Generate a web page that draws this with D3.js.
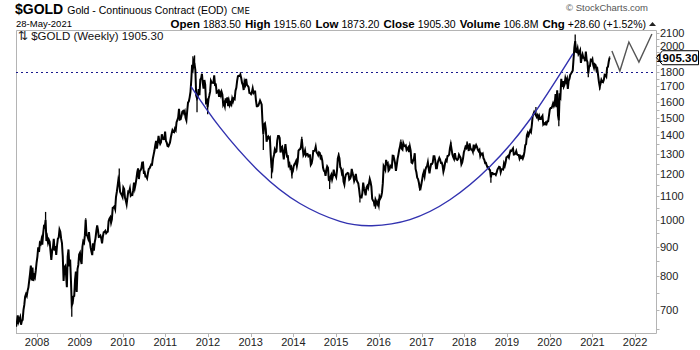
<!DOCTYPE html>
<html><head><meta charset="utf-8">
<script src="https://cdnjs.cloudflare.com/ajax/libs/d3/7.8.5/d3.min.js"></script>
<style>
html,body{margin:0;padding:0;background:#fff;}
svg{display:block;}
text{font-family:"Liberation Sans",Arial,sans-serif;}
</style></head>
<body><svg id="chart" width="700" height="350"></svg>
<script>
// ---- weekly closes (Friday) ----
const gold2007 = [655,667,685,668,674,680,660,670,673,700,714,738,745,740,755,765,786,808,835,787,828,785,803,797,818,845];
const gold2008 = [865,897,881,913,909,925,907,947,975,972,1001,920,933,914,925,918,885,854,885,896,928,886,902,871,904,929,933,963,955,929,913,865,785,829,833,805,766,865,890,832,855,786,713,718,738,740,790,815,752,823,837,872];
const gold2009 = [878,853,840,899,919,914,942,1002,942,940,930,953,923,897,883,870,912,886,915,931,958,979,962,935,936,940,930,912,937,953,954,958,949,953,955,996,1006,1011,990,1003,1050,1052,1056,1045,1096,1118,1146,1176,1162,1119,1111,1105];
const gold2010 = [1096,1138,1131,1092,1081,1065,1093,1120,1118,1133,1102,1106,1105,1126,1161,1136,1155,1179,1209,1228,1177,1213,1219,1228,1256,1257,1208,1210,1189,1189,1181,1204,1225,1228,1237,1247,1246,1276,1297,1318,1346,1369,1328,1359,1397,1367,1353,1362,1406,1385,1379,1380,1421];
const gold2011 = [1369,1360,1342,1340,1350,1361,1388,1410,1429,1421,1418,1437,1429,1475,1487,1504,1556,1491,1493,1511,1537,1542,1529,1540,1501,1486,1542,1594,1602,1628,1663,1742,1852,1827,1876,1857,1813,1639,1622,1635,1682,1642,1747,1755,1788,1724,1686,1744,1712,1598,1606,1566];
const gold2012 = [1617,1639,1665,1738,1726,1725,1724,1776,1710,1712,1659,1662,1669,1631,1659,1642,1664,1645,1581,1592,1572,1622,1593,1628,1572,1604,1579,1593,1583,1620,1603,1621,1617,1672,1691,1738,1771,1774,1773,1781,1758,1724,1711,1676,1731,1714,1751,1711,1704,1696,1657,1656];
const gold2013 = [1649,1662,1687,1658,1667,1667,1609,1572,1572,1577,1592,1608,1596,1581,1476,1405,1462,1468,1435,1365,1386,1393,1383,1388,1298,1234,1223,1277,1295,1322,1310,1313,1371,1396,1396,1386,1308,1333,1338,1309,1272,1316,1352,1314,1287,1288,1243,1250,1229,1235,1204,1213];
const gold2014 = [1237,1248,1254,1264,1240,1262,1318,1323,1326,1338,1379,1334,1294,1302,1318,1293,1300,1301,1288,1293,1293,1246,1253,1274,1316,1316,1320,1338,1310,1303,1294,1309,1305,1280,1286,1267,1231,1216,1214,1192,1222,1238,1231,1172,1169,1186,1196,1175,1191,1222,1196,1195];
const gold2015 = [1186,1217,1277,1293,1279,1234,1228,1204,1213,1165,1152,1184,1199,1202,1206,1204,1175,1179,1189,1225,1205,1190,1168,1179,1201,1173,1163,1157,1131,1099,1094,1094,1113,1160,1134,1121,1103,1137,1145,1136,1156,1177,1163,1142,1088,1081,1076,1056,1085,1076,1065,1075];
const gold2016 = [1061,1098,1090,1097,1116,1158,1239,1231,1221,1270,1250,1254,1217,1222,1240,1233,1232,1291,1290,1272,1252,1216,1244,1275,1297,1322,1340,1366,1328,1323,1357,1344,1341,1345,1321,1327,1334,1310,1339,1317,1257,1254,1267,1276,1304,1225,1209,1183,1177,1161,1137,1133,1152];
const gold2017 = [1173,1197,1210,1191,1220,1234,1239,1258,1228,1204,1230,1249,1249,1257,1289,1289,1268,1228,1228,1255,1269,1280,1271,1255,1256,1242,1212,1228,1254,1269,1264,1290,1291,1297,1330,1351,1324,1297,1284,1275,1304,1280,1272,1270,1275,1296,1288,1281,1248,1257,1278,1309];
const gold2018 = [1322,1338,1332,1350,1337,1316,1356,1330,1323,1324,1312,1349,1327,1336,1347,1338,1323,1315,1321,1291,1303,1298,1302,1278,1270,1254,1255,1241,1231,1233,1223,1219,1184,1206,1206,1200,1201,1201,1196,1207,1222,1229,1236,1234,1210,1224,1225,1223,1252,1241,1258,1283];
const gold2019 = [1286,1290,1282,1303,1318,1316,1322,1329,1297,1298,1303,1315,1298,1295,1295,1277,1288,1281,1287,1277,1289,1311,1346,1352,1400,1413,1400,1415,1427,1419,1457,1509,1523,1537,1529,1515,1506,1516,1497,1512,1494,1494,1505,1513,1462,1468,1463,1472,1465,1481,1481,1515];
const gold2020 = [1552,1560,1560,1572,1589,1573,1586,1649,1566,1674,1516,1484,1654,1637,1752,1698,1736,1700,1714,1756,1735,1751,1683,1737,1753,1781,1790,1801,1810,1897,1986,2035,1950,1947,1975,1934,1947,1962,1866,1907,1930,1906,1905,1879,1952,1889,1872,1788,1840,1843,1888,1883];
const gold2021 = [1895,1850,1830,1856,1850,1814,1823,1777,1729,1698,1720,1745,1733,1729,1745,1781,1778,1768,1832,1838,1877,1905];

const yearlySeries = [
  [2007, gold2007],[2008, gold2008],[2009, gold2009],[2010, gold2010],[2011, gold2011],
  [2012, gold2012],[2013, gold2013],[2014, gold2014],[2015, gold2015],[2016, gold2016],
  [2017, gold2017],[2018, gold2018],[2019, gold2019],[2020, gold2020],[2021, gold2021]
];

// notable intra-week extremes (week-ending Friday, high or low)
const extremeDates  = ["2008-03-14","2008-10-24","2009-02-20","2009-12-04","2011-08-26","2011-09-09","2011-09-30","2011-12-30","2012-10-05","2013-04-19","2013-06-28","2013-12-20","2014-03-14","2014-11-07","2015-01-23","2015-07-24","2015-12-04","2016-07-08","2016-12-16","2017-09-08","2018-01-26","2018-08-17","2019-09-06","2020-03-20","2020-08-07","2020-11-27","2021-03-05","2021-05-28"];
const extremeValues = [1033,681,1007,1227,1917,1923,1535,1523,1798,1321,1180,1180,1392,1131,1307,1072,1046,1377,1124,1362,1366,1160,1566,1451,2089,1764,1677,1915];

// Cup annotation (date, value)
const cupDates  = ["2011-08-09","2012-04-13","2013-03-21","2014-02-26","2015-02-03","2015-11-04","2016-09-24","2017-09-01","2018-08-09","2019-07-17","2020-07-19"];
const cupValues = [1701,1445,1209,1068,995,978,1002,1084,1237,1491,1936];

// Projected zigzag
const projDates  = ["2021-06-17","2021-08-24","2021-11-09","2022-02-03","2022-05-25"];
const projValues = [1957,1807,2028,1873,2094];

const yTicks = [700,800,900,1000,1100,1200,1300,1400,1500,1600,1700,1800,2000,2100];
const xTickYears = [2008,2009,2010,2011,2012,2013,2014,2015,2016,2017,2018,2019,2020,2021,2022];
const refLevel = 1800;
const lastClose = 1905.30;

const header = {
  symbol: "$GOLD", name: "Gold - Continuous Contract (EOD)", exch: "CME",
  date: "28-May-2021",
  stats: [["Open","1883.50"],["High","1915.60"],["Low","1873.20"],["Close","1905.30"],["Volume","106.8M"],["Chg","+28.60 (+1.52%)"]]
};

// ---- build data ----
const parse = d3.timeParse("%Y-%m-%d");
const data = [];
yearlySeries.forEach(([yr, arr]) => {
  let d0 = yr === 2007 ? new Date(2007,6,6) : d3.timeFriday.ceil(new Date(yr,0,1));
  arr.forEach((v,i) => data.push({date: d3.timeDay.offset(d0, 7*i), value: v}));
});
const byDay = new Map(data.map(d => [d3.timeFormat("%Y-%m-%d")(d.date), d.value]));

// ---- layout ----
const L = 16, R = 656, T = 30, B = 333;
const svg = d3.select("#chart");

const x = d3.scaleTime().domain([new Date(2007,6,5), new Date(2022,5,29)]).range([L, R]);
const y = d3.scaleLog().domain([638.7, 2127]).range([B, T]);

const defs = svg.append("defs");
defs.append("clipPath").attr("id","clip").append("rect")
  .attr("x",L).attr("y",T).attr("width",R-L).attr("height",B-T);

// frame
svg.append("path").attr("d",`M${L+0.5},${B}V${T+0.5}H${R+0.5}V${B+0.5}H${L}`)
  .attr("fill","none").attr("stroke","#b4b4b4").attr("stroke-width",1);

// reference 1800 line
svg.append("line").attr("x1",L).attr("x2",R).attr("y1",Math.round(y(refLevel))+0.5).attr("y2",Math.round(y(refLevel))+0.5)
  .attr("stroke","#1a1a8c").attr("stroke-width",1).attr("stroke-dasharray","2,3");

const g = svg.append("g").attr("clip-path","url(#clip)");

// price series
g.append("path").datum(data)
  .attr("d", d3.line().x(d=>x(d.date)).y(d=>y(d.value)))
  .attr("fill","none").attr("stroke","#000").attr("stroke-width",2)
  .attr("stroke-linejoin","miter").attr("stroke-miterlimit",6);

// intra-week extremes as bar wicks
const ext = extremeDates.map((d,i)=>({date:parse(d), value:extremeValues[i], close: byDay.get(d)}));
g.selectAll("line.wick").data(ext.filter(e=>e.close!==undefined)).join("line")
  .attr("x1",d=>x(d.date)).attr("x2",d=>x(d.date))
  .attr("y1",d=>y(d.close)).attr("y2",d=>y(d.value))
  .attr("stroke","#000").attr("stroke-width",1.3);

// cup curve
const cup = cupDates.map((d,i)=>({date:parse(d), value:cupValues[i]}));
g.append("path").datum(cup)
  .attr("d", d3.line().x(d=>x(d.date)).y(d=>y(d.value)).curve(d3.curveNatural))
  .attr("fill","none").attr("stroke","#3232b0").attr("stroke-width",1.4);

// projection
const proj = projDates.map((d,i)=>({date:parse(d), value:projValues[i]}));
svg.append("path").datum(proj)
  .attr("d", d3.line().x(d=>x(d.date)).y(d=>y(d.value)))
  .attr("fill","none").attr("stroke","#555").attr("stroke-width",1.4);

// right axis
const yAxis = svg.append("g");
const minor = d3.range(650, 2150, 50).filter(v => v>=y.domain()[0] && v<=y.domain()[1]);
yAxis.selectAll("line.minor").data(minor).join("line")
  .attr("x1",R+0.5).attr("x2",R+3.5).attr("y1",d=>Math.round(y(d))+0.5).attr("y2",d=>Math.round(y(d))+0.5)
  .attr("stroke","#b4b4b4");
yAxis.selectAll("text").data(yTicks).join("text")
  .attr("x",R+4).attr("y",d=>y(d)+4)
  .attr("font-size",11).attr("fill","#222").text(d=>d);

// last price label
const yl = y(lastClose);
svg.append("path").attr("d",`M${R+0.5},${yl}L${R+6.5},${yl-7}H${698.5}V${yl+7}H${R+6.5}Z`)
  .attr("fill","#fff").attr("stroke","#000").attr("stroke-width",1);
svg.append("text").attr("x",677).attr("y",yl+4.5).attr("text-anchor","middle")
  .attr("font-size",11.5).attr("font-weight","bold").attr("fill","#000").text(lastClose.toFixed(2));

// bottom axis
const xAxis = svg.append("g");
const xt = xTickYears.map(yr=>new Date(yr,0,1));
xAxis.selectAll("line").data(xt).join("line")
  .attr("x1",d=>Math.round(x(d))+0.5).attr("x2",d=>Math.round(x(d))+0.5).attr("y1",B).attr("y2",B+4)
  .attr("stroke","#b4b4b4");
xAxis.selectAll("text").data(xt).join("text")
  .attr("x",d=>x(d)).attr("y",346).attr("text-anchor","middle")
  .attr("font-size",11).attr("fill","#222").text(d=>d3.timeFormat("%Y")(d));

// header
const h1 = svg.append("text").attr("x",15).attr("y",14);
h1.append("tspan").attr("font-size",14).attr("font-weight","bold").text(header.symbol);
h1.append("tspan").attr("dx",4).attr("font-size",10.5).text(header.name);
h1.append("tspan").attr("dx",4).attr("font-size",8.5).attr("font-family","DejaVu Sans").text(header.exch);

svg.append("text").attr("x",16).attr("y",27).attr("font-size",9.5).text(header.date);

const h2 = svg.append("text").attr("x",646).attr("y",27.5).attr("text-anchor","end");
header.stats.forEach(([k,v],i)=>{
  h2.append("tspan").attr("dx", i===0?0:4).attr("font-size",11.5).attr("font-weight","bold").text(k);
  h2.append("tspan").attr("dx",3).attr("font-size",10.5).text(v);
});
svg.append("path").attr("d","M649,26L652.5,22L656,26Z").attr("fill","#222");

svg.append("text").attr("x",648).attr("y",11).attr("text-anchor","end")
  .attr("font-size",9.5).attr("font-family","'Open Sans',sans-serif").attr("fill","#555").text("© StockCharts.com");

svg.append("text").attr("x",18).attr("y",40).attr("font-size",11.5).attr("font-family","'DejaVu Sans',sans-serif")
  .attr("fill","#111").text("⇅ $GOLD (Weekly) 1905.30");
</script></body></html>
